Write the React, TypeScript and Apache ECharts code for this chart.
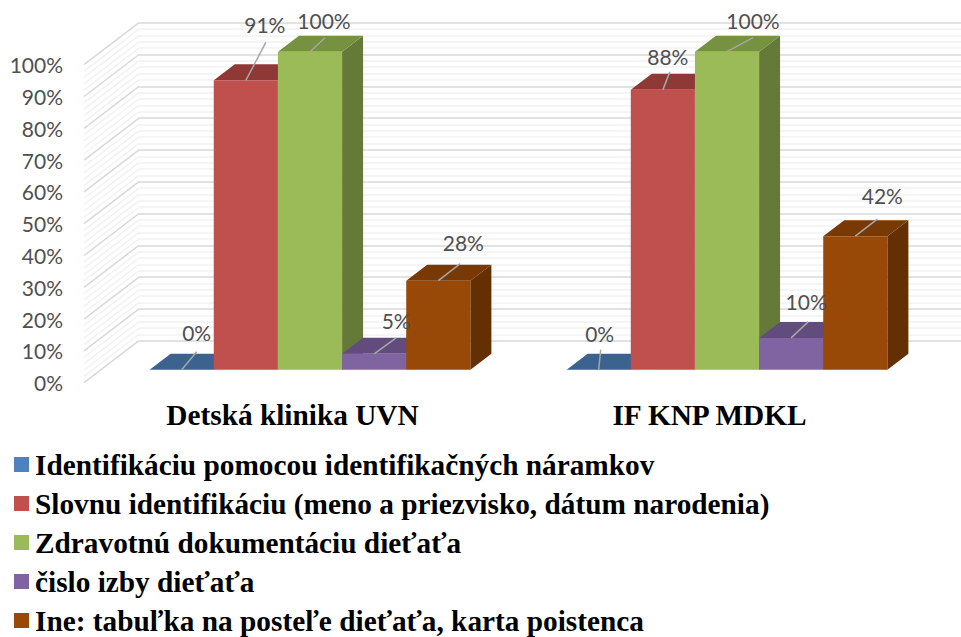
import React, { useEffect, useRef } from "react";
import * as echarts from "echarts";

const categories = ["Detská klinika UVN", "IF KNP MDKL"];
const seriesNames = [
  "Identifikáciu pomocou identifikačných náramkov",
  "Slovnu identifikáciu (meno a priezvisko, dátum narodenia)",
  "Zdravotnú dokumentáciu dieťaťa",
  "čislo izby dieťaťa",
  "Ine: tabuľka na posteľe dieťaťa, karta poistenca",
];
const identifikacia = [0, 0];
const slovna = [91, 88];
const dokumentacia = [100, 100];
const izba = [5, 10];
const ine = [28, 42];
const seriesValues = [identifikacia, slovna, dokumentacia, izba, ine];
const wallTicks = [0, 2, 4, 6, 8, 10, 12, 14, 16, 18, 20, 22, 24, 26, 28, 30, 32, 34, 36, 38, 40, 42, 44, 46, 48, 50,
  52, 54, 56, 58, 60, 62, 64, 66, 68, 70, 72, 74, 76, 78, 80, 82, 84, 86, 88, 90, 92, 94, 96, 98, 100];

// Styling and layout, kept apart from the data
const frontColors = ["#4f81bd", "#c0504d", "#9bbb59", "#8064a2", "#984807"];
const topColors = ["#3c6390", "#8f3937", "#769140", "#624c7e", "#783905"];
const sideColors = ["#34567d", "#7b302e", "#657a38", "#54416c", "#642f03"];
const DEPTH_X = 21;
const DEPTH_Y = -16;
const WALL_DX = 55;
const WALL_DY = -42;
const TEXT_GREY = "#505050";
const LABEL_FONT = "21px Lato";
// per series, per category: [leader end dx, dy, label dx, dy] from the centre of the bar's top front edge
const labelOffsets = [
  [[15, -18, 15, -37], [2, -20, 1, -36]],
  [[20, -38, 19, -56], [7, -18, 5, -33]],
  [[15, -14, 14, -31], [26, -14, 26, -31]],
  [[22, -16, 22, -33], [17, -16, 15, -36]],
  [[22, -17, 25, -38], [22, -17, 27, -41]],
];

function bar3d(seriesIndex: number) {
  return (params: any, api: any) => {
    const cat = api.value(0);
    const val = api.value(1);
    const [cx, y] = api.coord([cat, val]);
    const [, y0] = api.coord([cat, 0]);
    const catW = api.size([1, 0])[0];
    const w = catW / 6.5;
    const x = cx + (seriesIndex - 2.5) * w;
    const poly = (pts: number[][], fill: string) => ({
      type: "polygon",
      shape: { points: pts },
      style: { fill },
    });
    const children: any[] = [];
    if (val > 0) {
      children.push(
        poly([[x + w, y], [x + w + DEPTH_X, y + DEPTH_Y], [x + w + DEPTH_X, y0 + DEPTH_Y], [x + w, y0]], sideColors[seriesIndex]),
      );
    }
    children.push(poly([[x, y], [x + DEPTH_X, y + DEPTH_Y], [x + w + DEPTH_X, y + DEPTH_Y], [x + w, y]], topColors[seriesIndex]));
    if (val > 0) {
      children.push(poly([[x, y], [x + w, y], [x + w, y0], [x, y0]], frontColors[seriesIndex]));
    }
    const off = labelOffsets[seriesIndex][cat];
    const mx = x + w / 2;
    children.push({
      type: "line",
      z2: 10,
      shape: { x1: mx, y1: y, x2: mx + off[0], y2: y + off[1] },
      style: { stroke: "#a6a6a6", lineWidth: 1.5 },
    });
    children.push({
      type: "text",
      z2: 11,
      style: {
        x: mx + off[2],
        y: y + off[3],
        text: `${val}%`,
        fill: TEXT_GREY,
        font: LABEL_FONT,
        align: "center",
        verticalAlign: "middle",
      },
    });
    return { type: "group", children };
  };
}

function sideWall(params: any, api: any) {
  const v = api.value(1);
  const [, y] = api.coord([0, v]);
  const x = params.coordSys.x;
  const major = v % 10 === 0;
  return {
    type: "line",
    shape: { x1: x, y1: y, x2: x + WALL_DX, y2: y + WALL_DY },
    style: { stroke: major ? "#d9d9d9" : "#f2f2f2", lineWidth: 1.5 },
  };
}

export default function App() {
  const ref = useRef<HTMLDivElement>(null);
  useEffect(() => {
    if (!ref.current) return;
    const chart = echarts.init(ref.current, undefined, { renderer: "svg" });
    const barSeries = seriesNames.map((name, i) => ({
      name,
      type: "custom",
      xAxisIndex: 0,
      yAxisIndex: 0,
      z: 5,
      silent: true,
      clip: false,
      itemStyle: { color: frontColors[i] },
      data: seriesValues[i].map((v, c) => [c, v]),
      encode: { x: 0, y: 1 },
      renderItem: bar3d(i),
    }));
    chart.setOption({
      animation: false,
      backgroundColor: "#ffffff",
      textStyle: { fontFamily: "Lato" },
      grid: [
        { left: 101.5, top: 51.7, width: 834, height: 318 },
        { left: 84, top: 64.7, width: 834, height: 318 },
        { left: 139, top: 22.7, width: 840, height: 318 },
      ],
      xAxis: [
        { gridIndex: 0, type: "category", data: categories, show: false },
        {
          gridIndex: 1,
          type: "category",
          data: categories,
          axisLine: { show: false },
          axisTick: { show: false },
          axisLabel: {
            margin: 18,
            fontFamily: "Liberation Serif",
            fontWeight: "bold",
            fontSize: 29.3,
            color: "#000000",
          },
        },
        { gridIndex: 2, type: "category", data: categories, show: false },
      ],
      yAxis: [
        { gridIndex: 0, type: "value", min: 0, max: 100, interval: 10, show: false },
        {
          gridIndex: 1,
          type: "value",
          min: 0,
          max: 100,
          interval: 10,
          axisLine: { show: false },
          axisTick: { show: false },
          splitLine: { show: false },
          axisLabel: { formatter: "{value}%", margin: 21, fontFamily: "Lato", fontSize: 21, color: TEXT_GREY },
        },
        {
          gridIndex: 2,
          type: "value",
          min: 0,
          max: 100,
          interval: 10,
          axisLine: { show: false },
          axisTick: { show: false },
          axisLabel: { show: false },
          minorTick: { show: false, splitNumber: 5 },
          splitLine: { show: true, lineStyle: { color: "#d9d9d9", width: 1.5 } },
          minorSplitLine: { show: true, lineStyle: { color: "#f2f2f2", width: 1.5 } },
        },
      ],
      legend: {
        orient: "vertical",
        left: 9,
        top: 444.5,
        height: 190,
        data: seriesNames,
        icon: "rect",
        itemWidth: 15,
        itemHeight: 15,
        itemGap: 9,
        selectedMode: false,
        textStyle: {
          fontFamily: "Liberation Serif",
          fontWeight: "bold",
          fontSize: 29.3,
          color: "#000000",
          lineHeight: 30,
          padding: [0, 0, 0, 1],
        },
      },
      series: [
        {
          type: "custom",
          name: "wall",
          xAxisIndex: 1,
          yAxisIndex: 1,
          z: 1,
          silent: true,
          clip: false,
          data: wallTicks.map((v) => [0, v]),
          encode: { x: 0, y: 1 },
          renderItem: sideWall,
        },
        ...barSeries,
      ],
    });
    return () => chart.dispose();
  }, []);
  return (
    <div
      ref={ref}
      style={{ position: "fixed", left: 0, top: 0, width: 961, height: 637, overflow: "hidden" }}
    />
  );
}
